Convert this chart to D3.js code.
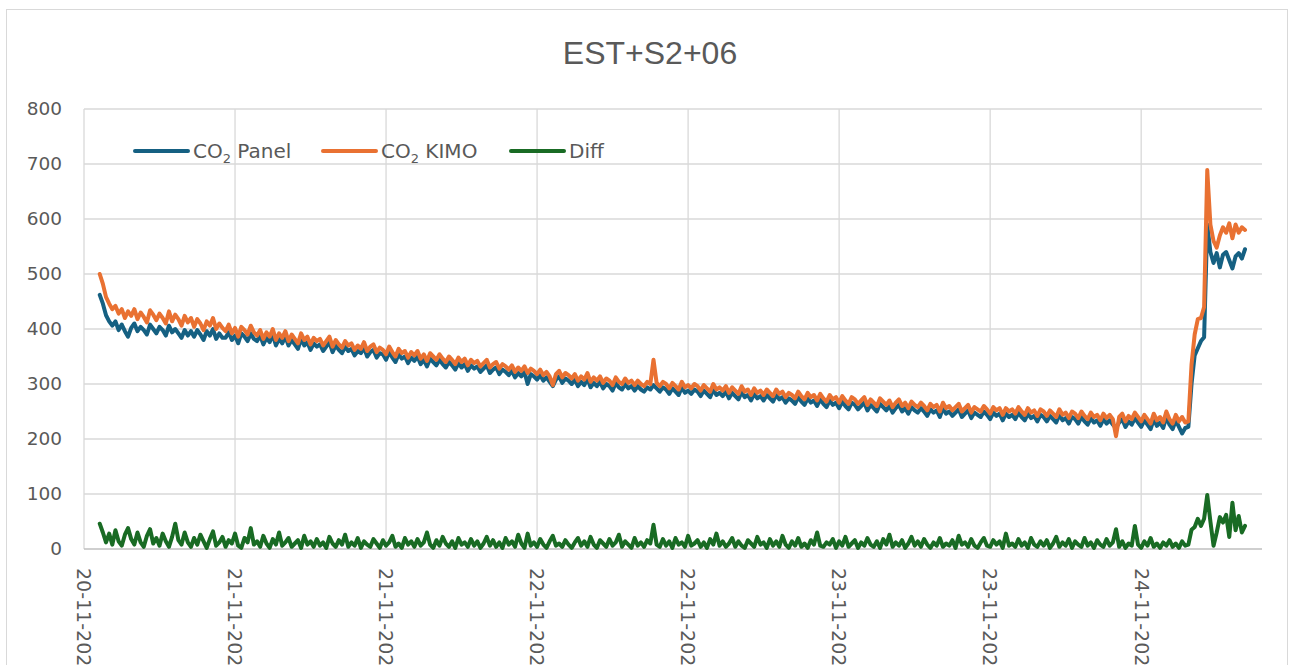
<!DOCTYPE html>
<html>
  <head>
    <meta charset="utf-8">
    <title>EST+S2+06</title>
    <script src="https://d3js.org/d3.v7.min.js"></script>
    <style>
      body { margin: 0; background: #fff; }
      text { fill: #595959; }
    </style>
  </head>

  <body>
    <svg id="canvas"></svg>
    <script>
      // data: one sample every 15 minutes from 20-11 13:15
      const startTime = new Date(2024, 10, 20, 13, 15);
      const stepMinutes = 15;

      const co2Panel = [
        462, 446, 425, 414, 406, 414, 398, 408, 396, 386,
        402, 410, 396, 404, 398, 390, 408, 400, 392, 404,
        398, 388, 406, 394, 400, 392, 384, 398, 388, 396,
        386, 398, 390, 380, 396, 388, 400, 382, 392, 384,
        384, 394, 380, 388, 374, 392, 386, 378, 392, 382,
        378, 388, 372, 384, 376, 390, 370, 382, 374, 386,
        370, 380, 372, 364, 382, 370, 376, 362, 374, 368,
        372, 360, 368, 376, 358, 370, 362, 356, 368, 360,
        364, 352, 360, 356, 366, 350, 358, 362, 348, 356,
        354, 344, 358, 348, 340, 354, 346, 350, 338, 348,
        342, 350, 336, 344, 332, 346, 340, 334, 344, 336,
        330, 340, 334, 326, 338, 330, 336, 324, 334, 328,
        332, 322, 328, 334, 320, 326, 330, 318, 326, 322,
        316, 324, 312, 320, 314, 322, 300, 318, 314, 308,
        316, 306, 312, 304, 296, 308, 314, 302, 310, 306,
        300, 308, 296, 304, 298, 310, 294, 302, 296, 304,
        292, 300, 296, 288, 302, 294, 290, 300, 292, 296,
        288, 296, 290, 286, 294, 290, 298, 292, 286, 294,
        290, 282, 292, 286, 280, 294, 284, 288, 282, 290,
        286, 278, 288, 282, 276, 290, 280, 284, 278, 286,
        274, 284, 278, 272, 286, 276, 280, 270, 282, 274,
        278, 270, 280, 274, 268, 280, 272, 276, 266, 274,
        270, 264, 276, 268, 262, 274, 266, 270, 260, 272,
        264, 258, 270, 262, 266, 256, 268, 260, 254, 266,
        262, 254, 260, 266, 252, 262, 256, 250, 264, 258,
        252, 260, 248, 256, 262, 250, 256, 246, 258, 252,
        248, 256, 250, 242, 254, 248, 252, 240, 256, 246,
        250, 242, 248, 254, 240, 246, 252, 238, 248, 244,
        240, 250, 244, 236, 248, 242, 246, 234, 246, 240,
        244, 236, 248, 240, 234, 246, 238, 242, 232, 244,
        240, 232, 242, 236, 230, 244, 234, 238, 228, 240,
        236, 228, 240, 232, 226, 238, 230, 234, 224, 236,
        228, 234, 226, 220, 230, 236, 222, 232, 226, 238,
        230, 222, 234, 226, 218, 236, 224, 230, 220, 240,
        226, 218, 234, 222, 210, 220,
        222, 300, 352, 365, 378, 385, 590, 540, 520, 538,
        512, 535, 540, 525, 510, 532, 538, 528, 545
      ];

      const co2Kimo = [
        500, 482, 458, 446, 436, 442, 428, 436, 420, 432,
        424, 436, 418, 430, 422, 412, 434, 426, 416, 428,
        420, 410, 432, 414, 426, 418, 406, 424, 412, 420,
        404, 418, 410, 398, 414, 406, 420, 400, 410, 402,
        396, 408, 392, 402, 386, 404, 398, 390, 406, 394,
        388, 398, 382, 394, 386, 400, 380, 392, 384, 396,
        378, 390, 382, 374, 392, 380, 386, 372, 384, 378,
        382, 370, 378, 386, 368, 380, 372, 366, 378, 370,
        374, 362, 370, 364, 376, 360, 368, 372, 358, 366,
        362, 354, 368, 358, 350, 364, 356, 360, 348, 358,
        352, 360, 346, 354, 342, 356, 350, 344, 354, 346,
        340, 350, 344, 336, 348, 340, 346, 334, 344, 338,
        342, 332, 338, 344, 330, 336, 340, 328, 336, 332,
        326, 334, 322, 330, 324, 332, 320, 328, 324, 318,
        326, 316, 322, 314, 298, 318, 324, 312, 320, 316,
        310, 318, 306, 314, 308, 320, 304, 312, 306, 314,
        302, 310, 306, 298, 312, 304, 300, 310, 302, 306,
        298, 306, 300, 296, 304, 300, 344, 302, 296, 304,
        300, 292, 302, 296, 290, 304, 294, 298, 292, 300,
        296, 288, 298, 292, 286, 300, 290, 294, 288, 296,
        284, 294, 288, 282, 296, 286, 290, 280, 292, 284,
        288, 280, 290, 284, 278, 290, 282, 286, 276, 284,
        280, 274, 286, 278, 272, 284, 276, 280, 270, 282,
        274, 268, 280, 272, 276, 266, 278, 270, 264, 276,
        272, 264, 270, 276, 262, 272, 266, 260, 274, 268,
        262, 270, 258, 266, 272, 260, 266, 256, 268, 262,
        258, 266, 260, 252, 264, 258, 262, 250, 266, 256,
        260, 252, 258, 264, 250, 256, 262, 248, 258, 254,
        250, 260, 254, 246, 258, 252, 256, 244, 256, 250,
        254, 246, 258, 250, 244, 256, 248, 252, 242, 254,
        250, 242, 252, 246, 240, 254, 244, 248, 238, 250,
        246, 238, 250, 242, 236, 248, 240, 244, 234, 246,
        238, 244, 236, 205, 240, 246, 232, 242, 236, 248,
        240, 232, 244, 236, 228, 246, 234, 240, 230, 250,
        236, 228, 244, 232, 240, 230,
        232, 335, 390, 418, 420, 440, 689, 590, 560, 548,
        570, 585, 575, 592, 565, 590, 575, 585, 580
      ];

      const diff = [
        46, 30, 12, 28, 8, 34, 14, 6, 26, 38,
        18, 8, 30, 12, 4, 24, 36, 10, 20, 6,
        28, 14, 4, 22, 46, 16, 8, 30, 12, 4,
        20, 8, 26, 14, 2, 18, 32, 6, 12, 22,
        4, 16, 10, 28, 6, 2, 20, 12, 38, 8,
        14, 4, 24, 10, 2, 18, 8, 30, 6, 12,
        20, 4, 10, 16, 2, 24, 8, 14, 4, 18,
        6, 12, 2, 22, 10, 4, 16, 8, 26, 4,
        12, 6, 20, 2, 14, 8, 4, 18, 10, 2,
        16, 6, 12, 24, 4, 10, 2, 20, 8, 14,
        4, 18, 6, 12, 30, 8, 2, 16, 6, 22,
        10, 4, 14, 2, 20, 8, 12, 4, 18, 6,
        14, 2, 10, 22, 6, 16, 4, 12, 2, 20,
        8, 14, 4, 26, 10, 2, 28, 6, 12, 4,
        18, 8, 2, 14, 24, 6, 10, 4, 16, 8,
        2, 12, 20, 6, 14, 4, 22, 8, 2, 16,
        10, 4, 18, 6, 12, 26, 4, 14, 8, 2,
        20, 6, 12, 4, 16, 10, 44, 8, 4, 18,
        6, 14, 2, 20, 8, 12, 4, 24, 6, 10,
        16, 4, 12, 2, 18, 8, 28, 6, 14, 4,
        10, 20, 4, 14, 6, 2, 16, 10, 4, 22,
        8, 12, 2, 18, 6, 14, 4, 24, 8, 2,
        14, 6, 20, 4, 10, 2, 16, 8, 30, 6,
        4, 12, 8, 18, 2, 14, 6, 22, 4, 10,
        16, 2, 12, 6, 20, 8, 4, 14, 2, 18,
        8, 26, 4, 12, 6, 16, 2, 10, 22, 6,
        14, 4, 18, 8, 2, 12, 6, 20, 4, 10,
        6, 16, 2, 24, 8, 12, 4, 18, 6, 2,
        12, 20, 6, 4, 16, 8, 14, 2, 28, 6,
        10, 4, 18, 6, 12, 2, 20, 8, 4, 14,
        6, 16, 2, 10, 22, 4, 12, 6, 18, 2,
        14, 8, 4, 20, 6, 12, 2, 16, 8, 4,
        18, 6, 12, 36, 4, 14, 2, 10, 6, 42,
        8, 2, 14, 6, 20, 4, 10, 2, 12, 6,
        16, 4, 10, 2, 14, 6,
        8, 35, 40, 55, 42, 55, 98, 50, 6, 30,
        58, 48, 62, 22, 84, 34, 60, 30, 42
      ];

      const yTicks = [0, 100, 200, 300, 400, 500, 600, 700, 800];
      const seriesNames = ["Panel", "KIMO", "Diff"];
      const seriesColors = ["#156082", "#e97132", "#196b24"];
      const seriesValues = [co2Panel, co2Kimo, diff];

      // page elements
      const width = 1292;
      const height = 665;
      const margin = { left: 84, right: 1262, top: 109, bottom: 549 };

      const canvas = d3.select("#canvas")
        .attr("width", width)
        .attr("height", height)
        .style("display", "block");

      // chart area border
      canvas.append("rect")
        .attr("x", 6.5)
        .attr("y", 9.5)
        .attr("width", 1281)
        .attr("height", 700)
        .attr("fill", "#fff")
        .attr("stroke", "#d9d9d9");

      // scales
      const x = d3.scaleTime()
        .domain([new Date(2024, 10, 20, 12, 0), new Date(2024, 10, 24, 9, 36)])
        .range([margin.left, margin.right]);
      const y = d3.scaleLinear()
        .domain([0, 800])
        .range([margin.bottom, margin.top]);

      const xTicks = x.ticks(d3.timeHour.every(12));
      const timeOf = function(i) { return d3.timeMinute.offset(startTime, i * stepMinutes); };

      // gridlines
      canvas.append("g")
        .selectAll("line")
          .data(yTicks.filter(function(d) { return d > 0; }))
        .enter().append("line")
          .attr("x1", margin.left)
          .attr("x2", margin.right)
          .attr("y1", function(d) { return y(d); })
          .attr("y2", function(d) { return y(d); })
          .attr("stroke", "#d9d9d9")
          .attr("stroke-width", 1.3);
      canvas.append("g")
        .selectAll("line")
          .data(xTicks)
        .enter().append("line")
          .attr("x1", function(d) { return x(d); })
          .attr("x2", function(d) { return x(d); })
          .attr("y1", margin.top)
          .attr("y2", margin.bottom)
          .attr("stroke", "#d9d9d9")
          .attr("stroke-width", 1.3);

      // bottom axis line
      canvas.append("line")
        .attr("x1", margin.left)
        .attr("x2", margin.right)
        .attr("y1", y(0))
        .attr("y2", y(0))
        .attr("stroke", "#bfbfbf")
        .attr("stroke-width", 1.3);

      // y labels
      canvas.append("g")
        .selectAll("text")
          .data(yTicks)
        .enter().append("text")
          .attr("x", 62)
          .attr("y", function(d) { return y(d); })
          .attr("dy", "0.35em")
          .attr("text-anchor", "end")
          .style("font", "18.5px 'DejaVu Sans', sans-serif")
          .text(function(d) { return d; });

      // x labels, turned to read downwards
      const fmt = d3.timeFormat("%d-%m-%Y");
      canvas.append("g")
        .selectAll("text")
          .data(xTicks)
        .enter().append("text")
          .attr("transform", function(d) { return "translate(" + x(d) + ",568) rotate(90)"; })
          .attr("dy", "0.35em")
          .attr("text-anchor", "start")
          .style("font", "19px 'DejaVu Sans', sans-serif")
          .text(function(d) { return fmt(d); });

      // series lines
      const line = d3.line()
        .x(function(d, i) { return x(timeOf(i)); })
        .y(function(d) { return y(d); });

      canvas.append("g")
        .selectAll("path")
          .data(seriesValues)
        .enter().append("path")
          .attr("d", line)
          .attr("fill", "none")
          .attr("stroke", function(d, i) { return seriesColors[i]; })
          .attr("stroke-width", 4)
          .attr("stroke-linejoin", "round")
          .attr("stroke-linecap", "round");

      // title
      canvas.append("text")
        .attr("x", 650)
        .attr("y", 64)
        .attr("text-anchor", "middle")
        .style("font", "32px 'Liberation Sans', Arial, sans-serif")
        .text("EST+S2+06");

      // legend
      const legendX = [135, 323, 511];
      const legend = canvas.append("g")
        .selectAll("g")
          .data(seriesNames)
        .enter().append("g")
          .attr("transform", function(d, i) { return "translate(" + legendX[i] + ",151)"; });
      legend.append("line")
        .attr("x1", 0)
        .attr("x2", 53)
        .attr("stroke", function(d, i) { return seriesColors[i]; })
        .attr("stroke-width", 4)
        .attr("stroke-linecap", "round");
      const legendText = legend.append("text")
        .attr("x", 58)
        .attr("dy", "0.35em")
        .style("font", "20px 'DejaVu Sans', sans-serif");
      legendText.each(function(d) {
        const t = d3.select(this);
        if (d === "Diff") {
          t.text(d);
        } else {
          t.append("tspan").text("CO");
          t.append("tspan").attr("dy", 5).style("font-size", "13px").text("2");
          t.append("tspan").attr("dy", -5).text(" " + d);
        }
      });
    </script>
  </body>
</html>
